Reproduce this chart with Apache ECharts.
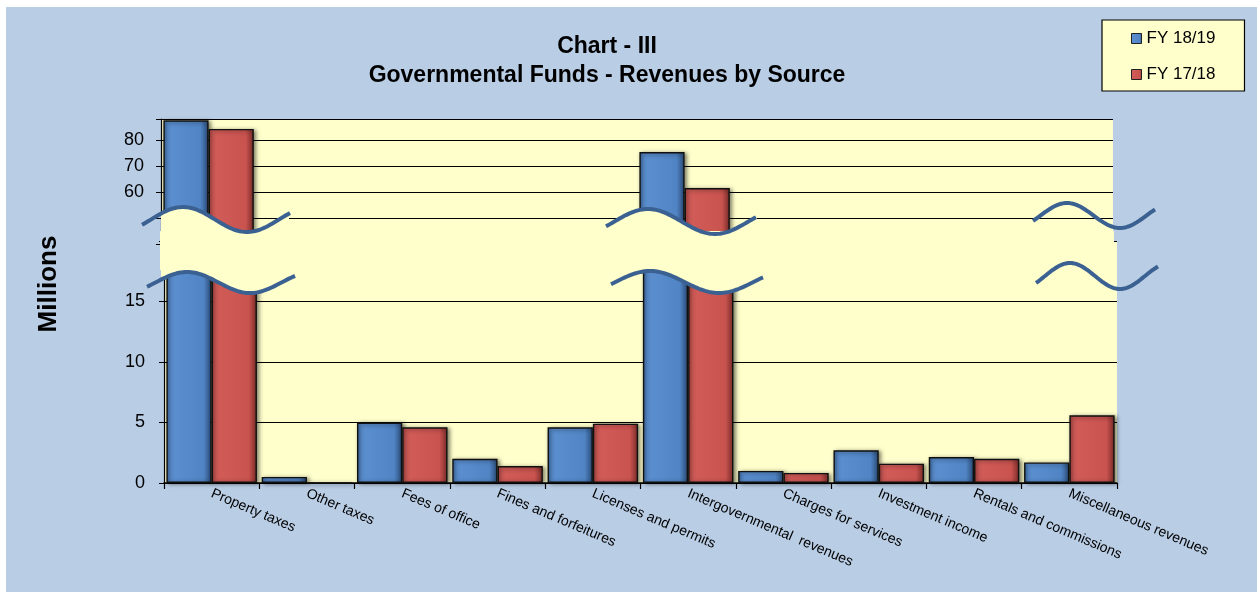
<!DOCTYPE html>
<html>
<head>
<meta charset="utf-8">
<script src="https://cdn.jsdelivr.net/npm/echarts@6/dist/echarts.min.js"></script>
<style>
	html, body { margin: 0; padding: 0; background: #fff; }
	#wrap { position: relative; width: 1257px; height: 592px; background: #B9CDE5; }
	#chart { position: absolute; left: 0; top: 0; width: 1257px; height: 592px; }
	.edge-top { position: absolute; left: 0; top: 0; width: 1257px; height: 7px; background: #fff; }
	.edge-left { position: absolute; left: 0; top: 0; width: 6px; height: 592px; background: #fff; }
</style>
</head>
<body>
<div id="wrap">
	<div id="chart"></div>
	<div class="edge-top"></div>
	<div class="edge-left"></div>
</div>
<script>
var categories = ['Property taxes', 'Other taxes', 'Fees of office', 'Fines and forfeitures',
	'Licenses and permits', 'Intergovernmental  revenues', 'Charges for services',
	'Investment income', 'Rentals and commissions', 'Miscellaneous revenues'];
var fy1819 = [87.5, 0.5, 5.0, 2.0, 4.6, 75.3, 1.0, 2.7, 2.15, 1.7];
var fy1718 = [84.2, 0, 4.6, 1.4, 4.9, 61.5, 0.83, 1.6, 2.0, 5.6];
var seriesNames = ['FY 18/19', 'FY 17/18'];
var upperRange = [40, 88];
var lowerRange = [0, 20];
var upperLabels = [60, 70, 80];
var lowerLabels = [0, 5, 10, 15];

var FONT = '"Liberation Sans", Arial, sans-serif';

function upperData(arr) {
	return arr.map(function (v) { return v >= upperRange[0] ? v : '-'; });
}

function barStyle(c1, c2, c3, c4) {
	return {
		color: {
			type: 'linear', x: 0, y: 0, x2: 1, y2: 0,
			colorStops: [
				{ offset: 0, color: c1 },
				{ offset: 0.1, color: c2 },
				{ offset: 0.82, color: c3 },
				{ offset: 1, color: c4 }
			]
		},
		borderColor: '#111',
		borderWidth: 1.4,
		shadowColor: 'rgba(0,0,0,0.5)',
		shadowBlur: 4,
		shadowOffsetX: 2,
		shadowOffsetY: 1
	};
}
var blueStyle = barStyle('#3A679F', '#5B8FD0', '#5084C4', '#2A4A75');
var redStyle = barStyle('#A4413E', '#D25C58', '#C9534F', '#7A2C29');

/* wave: [x0, x1, xPeak, xTrough, cy, amp] */
function wavePts(w, a, b) {
	var pts = [];
	var from = a === undefined ? w[0] : a;
	var to = b === undefined ? w[1] : b;
	for (var x = from; x <= to; x += 2) {
		pts.push([x, w[4] - w[5] * Math.cos(Math.PI * (x - w[2]) / (w[3] - w[2]))]);
	}
	return pts;
}

var breaks = [
	{ up: [142, 290, 183, 247, 219.5, 12.5], lo: [147, 295, 187, 250, 282.5, 10.5], fill: [161, 290] },
	{ up: [606, 757, 648, 715, 221.5, 12.5], lo: [611, 763, 650, 719, 282, 11], fill: [611, 757] },
	{ up: [1033, 1155, 1067, 1120, 215.5, 12.5], lo: [1036, 1158, 1070, 1120, 276, 13], fill: null }
];

var graphics = [];
breaks.forEach(function (b, i) {
	if (b.fill) {
		var top = wavePts(b.up, b.fill[0], b.fill[1]);
		var bot = wavePts(b.lo, b.fill[0], b.fill[1]).reverse();
		graphics.push({ id: 'fill' + i, type: 'polygon', z: 101, shape: { points: top.concat(bot) }, style: { fill: '#FFFFCC' } });
	}
});
/* yellow band hiding the gap between the two axis segments */
graphics.push({ id: 'band', type: 'rect', z: 101, shape: { x: 160, y: 231, width: 954, height: 39 }, style: { fill: '#FFFFCC' } });
breaks.forEach(function (b, i) {
	graphics.push({ id: 'wu' + i, type: 'polyline', z: 102, shape: { points: wavePts(b.up) }, style: { stroke: '#3A6191', lineWidth: 4, fill: null } });
	graphics.push({ id: 'wl' + i, type: 'polyline', z: 102, shape: { points: wavePts(b.lo) }, style: { stroke: '#3A6191', lineWidth: 4, fill: null } });
});
graphics.push({
	id: 't1', type: 'text', z: 110, x: 607, y: 47,
	style: { text: 'Chart - III', font: 'bold 23px ' + FONT, fill: '#000', align: 'center', verticalAlign: 'middle' }
});
graphics.push({
	id: 't2', type: 'text', z: 110, x: 607, y: 76,
	style: { text: 'Governmental Funds - Revenues by Source', font: 'bold 23px ' + FONT, fill: '#000', align: 'center', verticalAlign: 'middle' }
});
graphics.push({
	id: 't3', type: 'text', z: 110, x: 49, y: 284, rotation: Math.PI / 2,
	style: { text: 'Millions', font: 'bold 26px ' + FONT, fill: '#000', align: 'center', verticalAlign: 'middle' }
});

var chart = echarts.init(document.getElementById('chart'));

var yAxisCommon = function (range, labels, margin) {
	return {
		type: 'value',
		min: range[0],
		max: range[1],
		interval: 10,
		axisLine: { show: true, lineStyle: { color: '#000', width: 1.2 } },
		axisTick: { show: true, length: 5, lineStyle: { color: '#000' } },
		axisLabel: {
			color: '#000', fontSize: 18, fontFamily: FONT, margin: margin,
			formatter: function (v) { return labels.indexOf(v) >= 0 ? String(v) : ''; }
		},
		splitLine: { show: true, lineStyle: { color: '#000', width: 1.2 } }
	};
};

var yUpper = yAxisCommon(upperRange, upperLabels, 17);
yUpper.gridIndex = 0;
var yLower = yAxisCommon(lowerRange, lowerLabels, 19);
yLower.gridIndex = 1;
yLower.interval = 5;

var option = {
	animation: false,
	backgroundColor: 'transparent',
	grid: [
		{ left: 161, top: 119, width: 952, height: 125, show: true, backgroundColor: '#FFFFCC', borderWidth: 0 },
		{ left: 164, top: 241, width: 953, height: 242, show: true, backgroundColor: '#FFFFCC', borderWidth: 0 }
	],
	legend: {
		data: seriesNames,
		orient: 'vertical',
		left: 1102,
		top: 20,
		padding: [10, 29, 8, 29],
		itemGap: 19,
		itemWidth: 10,
		itemHeight: 10,
		itemStyle: { borderColor: '#222', borderWidth: 1 },
		icon: 'rect',
		backgroundColor: '#FFFFCC',
		borderColor: '#000',
		borderWidth: 1.2,
		textStyle: { color: '#000', fontSize: 17, fontFamily: FONT }
	},
	xAxis: [
		{ gridIndex: 0, type: 'category', data: categories, show: false },
		{
			gridIndex: 1, type: 'category', data: categories,
			axisLine: { lineStyle: { color: '#000', width: 1.5 } },
			axisTick: { show: true, length: 6, lineStyle: { color: '#000', width: 1.2 } },
			axisLabel: { interval: 0, rotate: -23, color: '#000', fontSize: 14, fontFamily: FONT, margin: 10 }
		}
	],
	yAxis: [yUpper, yLower],
	series: [
		{ name: seriesNames[0], type: 'bar', xAxisIndex: 0, yAxisIndex: 0, data: upperData(fy1819), barGap: '0%', barCategoryGap: '5%', itemStyle: blueStyle },
		{ name: seriesNames[1], type: 'bar', xAxisIndex: 0, yAxisIndex: 0, data: upperData(fy1718), barGap: '0%', barCategoryGap: '5%', itemStyle: redStyle },
		{ name: seriesNames[0], type: 'bar', xAxisIndex: 1, yAxisIndex: 1, data: fy1819, barGap: '0%', barCategoryGap: '5%', itemStyle: blueStyle },
		{ name: seriesNames[1], type: 'bar', xAxisIndex: 1, yAxisIndex: 1, data: fy1718, barGap: '0%', barCategoryGap: '5%', itemStyle: redStyle }
	],
	graphic: { elements: graphics }
};

chart.setOption(option);
</script>
</body>
</html>
